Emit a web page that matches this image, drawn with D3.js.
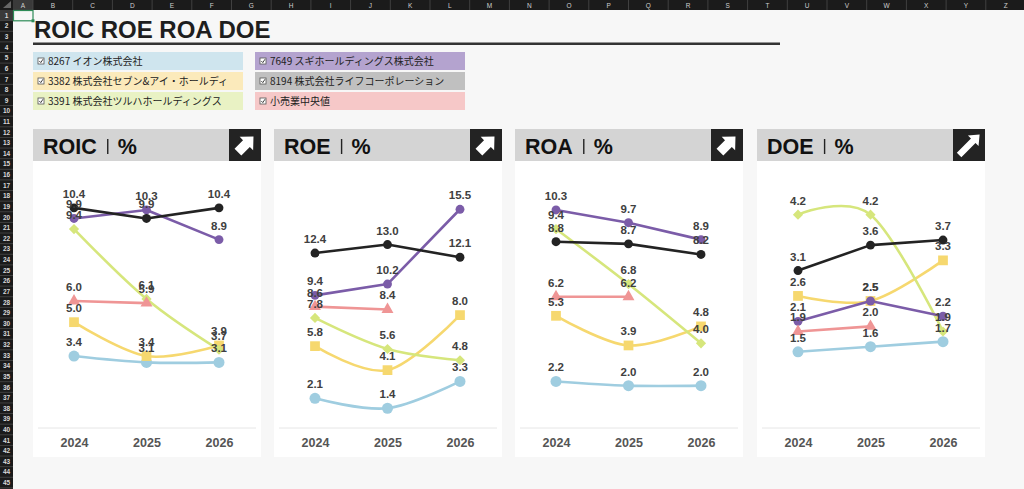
<!DOCTYPE html>
<html><head><meta charset="utf-8">
<script src="https://cdn.jsdelivr.net/npm/d3@7/dist/d3.min.js"></script>
<style>
html,body{margin:0;padding:0;overflow:hidden;background:#f7f7f7;}
svg{display:block;}
</style></head>
<body>
<svg id="c" width="1024" height="489"></svg>
<script>
// ---------- DATA ----------
const years = ["2024", "2025", "2026"];
const seriesNames = [
  "8267 イオン株式会社",
  "3382 株式会社セブン&アイ・ホールディ",
  "3391 株式会社ツルハホールディングス",
  "7649 スギホールディングス株式会社",
  "8194 株式会社ライフコーポレーション",
  "小売業中央値"
];
const metricNames = ["ROIC", "ROE", "ROA", "DOE"];
const metricMax = [12, 18, 12, 5];
// order: Aeon, Seven&i, Tsuruha, Sugi, Life, median
const roicValues = [
  [3.4, 3.1, 3.1],
  [5.0, 3.4, 3.9],
  [9.4, 6.1, 3.7],
  [9.9, 10.3, 8.9],
  [10.4, 9.9, 10.4],
  [6.0, 5.9, null]
];
const roeValues = [
  [2.1, 1.4, 3.3],
  [5.8, 4.1, 8.0],
  [7.8, 5.6, 4.8],
  [9.4, 10.2, 15.5],
  [12.4, 13.0, 12.1],
  [8.6, 8.4, null]
];
const roaValues = [
  [2.2, 2.0, 2.0],
  [5.3, 3.9, 4.8],
  [9.4, 6.8, 4.0],
  [10.3, 9.7, 8.9],
  [8.8, 8.7, 8.2],
  [6.2, 6.2, null]
];
const doeValues = [
  [1.5, 1.6, 1.7],
  [2.6, 2.5, 3.3],
  [4.2, 4.2, 1.9],
  [2.1, 2.5, 2.2],
  [3.1, 3.6, 3.7],
  [1.9, 2.0, null]
];
const metricValues = [roicValues, roeValues, roaValues, doeValues];

// ---------- STYLES ----------
const lineColors = ["#9fcde0", "#f6d86f", "#d6e67c", "#7b5ca8", "#232323", "#ef9595"];
const legendColors = ["#cfe5ee", "#fbeabb", "#e9f2c4", "#b4a3cf", "#c0c0c0", "#f6c8c8"];
const markerTypes = ["bigcircle", "square", "diamond", "circle", "circle", "triangle"];
const smoothFlags = [true, true, true, false, false, false];

const svg = d3.select("#c");
const W = 1024, H = 489;
const latin = "'Liberation Sans', Arial, Helvetica, sans-serif";
const jp = "'Noto Sans CJK JP', 'Noto Sans', sans-serif";

svg.append("rect").attr("width", W).attr("height", H).attr("fill", "#f7f7f7");

// ---------- spreadsheet chrome ----------
const colLetters = "ABCDEFGHIJKLMNOPQRSTUVWXYZ".split("");
svg.append("rect").attr("x", 0).attr("y", 0).attr("width", W).attr("height", 10).attr("fill", "#1b1b1b");
svg.append("rect").attr("x", 0).attr("y", 0).attr("width", 13).attr("height", H).attr("fill", "#1b1b1b");
const colStart = i => i === 0 ? 13 : 33 + (i - 1) * 39.7;
const colEnd = i => i === 0 ? 33 : 33 + i * 39.7;
colLetters.forEach((L, i) => {
  const x0 = colStart(i), x1 = colEnd(i);
  if (i === 0) svg.append("rect").attr("x", x0).attr("y", 0).attr("width", x1 - x0).attr("height", 10).attr("fill", "#3a3a3a");
  svg.append("line").attr("x1", x1).attr("x2", x1).attr("y1", 0).attr("y2", 10).attr("stroke", "#4a4a4a").attr("stroke-width", 0.8);
  svg.append("text").attr("x", (x0 + x1) / 2).attr("y", 7.6).attr("text-anchor", "middle")
    .attr("font-family", latin).attr("font-size", 6.5).attr("fill", "#cfcfcf").text(L);
});
for (let r = 1; r <= 45; r++) {
  const y0 = 10 + (r - 1) * 10.62, y1 = y0 + 10.62;
  if (r === 1) svg.append("rect").attr("x", 0).attr("y", y0).attr("width", 13).attr("height", 10.62).attr("fill", "#3a3a3a");
  svg.append("line").attr("x1", 0).attr("x2", 13).attr("y1", y1).attr("y2", y1).attr("stroke", "#4a4a4a").attr("stroke-width", 0.8);
  svg.append("text").attr("x", 6.5).attr("y", y0 + 7.8).attr("text-anchor", "middle")
    .attr("font-family", latin).attr("font-size", 6.5).attr("font-weight", "bold").attr("fill", "#d8d8d8").text(r);
}
svg.append("path").attr("d", "M3,8 L11,8 L11,1 Z").attr("fill", "#666");
svg.append("rect").attr("x", 13.5).attr("y", 10.5).attr("width", 19.5).attr("height", 10.3)
  .attr("fill", "none").attr("stroke", "#2e8b57").attr("stroke-width", 1.2);
svg.append("rect").attr("x", 31.5).attr("y", 19.3).attr("width", 3).attr("height", 3).attr("fill", "#2e8b57");

// ---------- title ----------
svg.append("text").attr("x", 34).attr("y", 37.5).attr("font-family", latin).attr("font-weight", 900)
  .attr("font-size", 24).attr("fill", "#1e1e1e").text("ROIC ROE ROA DOE");
svg.append("line").attr("x1", 33).attr("x2", 780).attr("y1", 43.8).attr("y2", 43.8)
  .attr("stroke", "#333").attr("stroke-width", 2.4);

// ---------- legend ----------
seriesNames.forEach((name, i) => {
  const col = Math.floor(i / 3), row = i % 3;
  const x = col === 0 ? 33 : 255, y = 52 + row * 20;
  svg.append("rect").attr("x", x).attr("y", y).attr("width", 210).attr("height", 18).attr("fill", legendColors[i]);
  // checkbox
  svg.append("rect").attr("x", x + 5).attr("y", y + 6).attr("width", 6).attr("height", 6)
    .attr("fill", "#fff").attr("stroke", "#555").attr("stroke-width", 0.8);
  svg.append("path").attr("d", `M${x + 6.3},${y + 9} L${x + 7.8},${y + 10.6} L${x + 10},${y + 7.2}`)
    .attr("fill", "none").attr("stroke", "#333").attr("stroke-width", 0.9);
  svg.append("text").attr("x", x + 15).attr("y", y + 12.8).attr("font-family", jp)
    .attr("font-size", 10).attr("fill", "#222").text(name);
});

// ---------- panels ----------
const panelX = [33, 274, 515, 757];
const panelW = 228;
const yTop = 174, yBase = 428;

function symbolPath(type) {
  if (type === "square") return d3.symbol().type(d3.symbolSquare).size(95)();
  if (type === "diamond") return d3.symbol().type(d3.symbolSquare).size(52)();
  if (type === "triangle") return d3.symbol().type(d3.symbolTriangle).size(62)();
  if (type === "bigcircle") return d3.symbol().type(d3.symbolCircle).size(95)();
  return d3.symbol().type(d3.symbolCircle).size(62)();
}

function arrowPoints(thin) {
  const pts = thin
    ? [[0, -15], [7.5, -6], [3.2, -6], [3.2, 14], [-3.2, 14], [-3.2, -6], [-7.5, -6]]
    : [[0, -12], [9.5, -2], [4.8, -2], [4.8, 10], [-4.8, 10], [-4.8, -2], [-9.5, -2]];
  return pts.map(p => p.join(",")).join(" ");
}

metricNames.forEach((m, k) => {
  const px = panelX[k];
  const g = svg.append("g");
  // body
  g.append("rect").attr("x", px).attr("y", 161).attr("width", panelW).attr("height", 296).attr("fill", "#ffffff");
  // header
  g.append("rect").attr("x", px).attr("y", 129).attr("width", panelW).attr("height", 32).attr("fill", "#d4d4d4");
  g.append("rect").attr("x", px + panelW - 32).attr("y", 129).attr("width", 32).attr("height", 32).attr("fill", "#232323");
  g.append("polygon").attr("points", arrowPoints(k === 3))
    .attr("transform", `translate(${px + panelW - 16},${145}) rotate(45)`).attr("fill", "#ffffff");
  const t = g.append("text").attr("x", px + 10).attr("y", 153.5).attr("font-family", latin)
    .attr("font-weight", 900).attr("font-size", 21.5).attr("fill", "#111").text(m);
  const tw = t.node().getComputedTextLength();
  g.append("line").attr("x1", px + 10 + tw + 11).attr("x2", px + 10 + tw + 11).attr("y1", 139).attr("y2", 154)
    .attr("stroke", "#222").attr("stroke-width", 1.4);
  g.append("text").attr("x", px + 10 + tw + 21).attr("y", 153.5).attr("font-family", latin)
    .attr("font-weight", 900).attr("font-size", 21.5).attr("fill", "#111").text("%");

  const x = d3.scalePoint().domain(years).range([px + 41, px + 186]);
  const y = d3.scaleLinear().domain([0, metricMax[k]]).range([yBase, yTop]);

  // baseline
  g.append("line").attr("x1", px + 5).attr("x2", px + 223).attr("y1", yBase).attr("y2", yBase)
    .attr("stroke", "#e6e6e6").attr("stroke-width", 1);
  // x axis labels
  const ax = d3.axisBottom(x).tickSize(0).tickPadding(0);
  const axG = g.append("g").attr("transform", `translate(0,${yBase})`).call(ax);
  axG.select(".domain").remove();
  axG.selectAll("text").attr("y", 19).attr("dy", 0).attr("font-family", latin).attr("font-weight", "bold")
    .attr("font-size", 12.5).attr("fill", "#555");

  const vals = metricValues[k];
  vals.forEach((arr, s) => {
    const pts = years.map((yr, j) => ({ yr, v: arr[j] })).filter(d => d.v !== null);
    const line = d3.line().x(d => x(d.yr)).y(d => y(d.v))
      .curve(smoothFlags[s] ? d3.curveCatmullRom.alpha(0) : d3.curveLinear);
    g.append("path").datum(pts).attr("d", line).attr("fill", "none")
      .attr("stroke", lineColors[s]).attr("stroke-width", 2.6).attr("stroke-linejoin", "round");
    g.selectAll(null).data(pts).enter().append("path")
      .attr("d", symbolPath(markerTypes[s]))
      .attr("transform", d => `translate(${x(d.yr)},${y(d.v)})` + (markerTypes[s] === "diamond" ? " rotate(45)" : ""))
      .attr("fill", lineColors[s]);
  });
  // data labels on top
  vals.forEach((arr, s) => {
    const pts = years.map((yr, j) => ({ yr, v: arr[j] })).filter(d => d.v !== null);
    g.selectAll(null).data(pts).enter().append("text")
      .attr("x", d => x(d.yr)).attr("y", d => y(d.v) - 10).attr("text-anchor", "middle")
      .attr("font-family", latin).attr("font-weight", "bold").attr("font-size", 11.5)
      .attr("fill", "#404040").text(d => d.v.toFixed(1));
  });
});
</script>
</body></html>
